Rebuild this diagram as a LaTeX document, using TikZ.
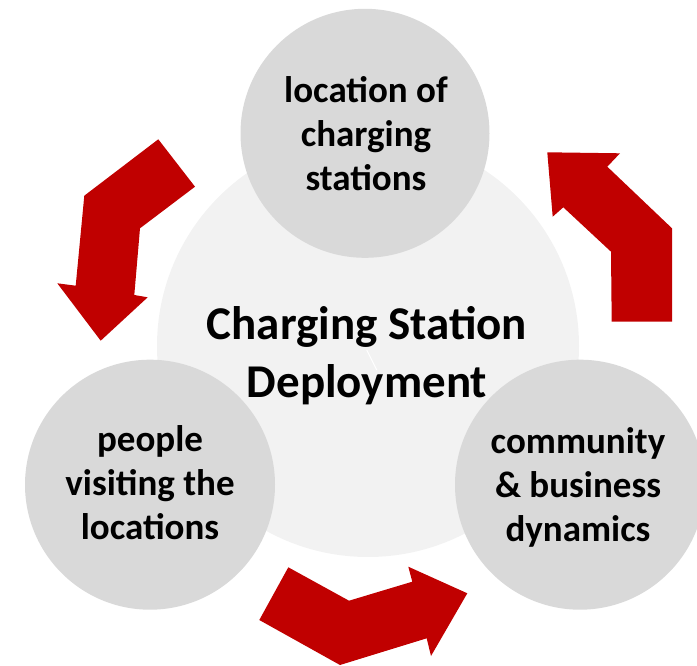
\documentclass[tikz,border=0pt]{standalone}
\usepackage{fontspec}
\setmainfont{Carlito}

\definecolor{cycleRed}{RGB}{192,0,0}
\definecolor{hubGray}{RGB}{242,242,242}
\definecolor{topicGray}{RGB}{217,217,217}

\begin{document}
\begin{tikzpicture}[x=1pt,y=-1pt,
    topic/.style={circle,fill=topicGray,minimum size=250pt,inner sep=0pt},
    topictext/.style={align=center,inner sep=0pt,font=\fontsize{37}{44}\selectfont\bfseries},
    cyclearrow/.style={fill=cycleRed,draw=none}]
        \useasboundingbox (0,0) rectangle (697,666);
        \clip (0,0) rectangle (697,666);

        % Background hub circle
        \node[circle,fill=hubGray,minimum size=422pt,inner sep=0pt] (hub) at (368,346) {};
        \draw[white,line width=1pt] (366.7,350) -- (376.7,370);

        % Three topic circles
        \node[topic,minimum size=249pt] (location) at (365,133.3) {};
        \node[topic] (people) at (150,484.7) {};
        \node[topic] (community) at (580,484.7) {};

        % Red bent arrows between the topics
        \fill[cyclearrow] (158.3,139.3) -- (195,186.7) -- (140,228.3) -- (134.3,295)
            -- (147.7,297.3) -- (100.7,340.7) -- (57.3,283.3) -- (75.7,285.7)
            -- (84.3,195.7) -- cycle;
        \fill[cyclearrow] (547.3,152.3) -- (620,153.3) -- (607.3,166.7) -- (672,228.3)
            -- (672,321.7) -- (611.7,321.7) -- (611,251.7) -- (563.3,207.3)
            -- (552.7,216.7) -- cycle;
        \fill[cyclearrow] (288.3,567.3) -- (349,600.7) -- (412.3,581.7) -- (408.3,566.7)
            -- (467.3,593.3) -- (431,656) -- (426.7,638.3) -- (340,665)
            -- (259.3,620) -- cycle;

        % Labels
        \node[align=center,inner sep=0pt,font=\fontsize{47}{58}\selectfont\bfseries] (title) at (367,357.3)
            {\strut Charging Station\\\strut Deployment};
        \node[topictext] (locationtext) at (366,137.9)
            {\strut location of\\\strut charging\\\strut stations};
        \node[topictext] (peopletext) at (150,486.2)
            {\strut people\\\strut visiting the\\\strut locations};
        \node[topictext] (communitytext) at (578,489)
            {\strut community\\\strut \& business\\\strut dynamics};

    \end{tikzpicture}
\end{document}
